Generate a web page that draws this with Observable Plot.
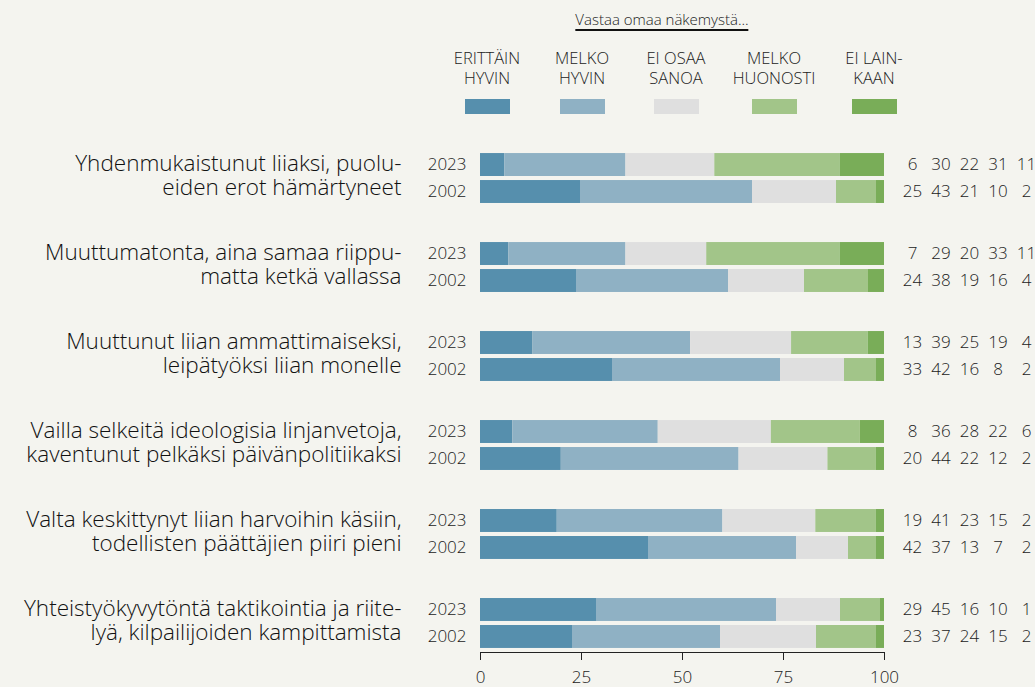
<!DOCTYPE html>
<html>
<head>
<meta charset="utf-8">
<script src="https://cdn.jsdelivr.net/npm/d3@7"></script>
<script src="https://cdn.jsdelivr.net/npm/@observablehq/plot@0.6"></script>
<style>
  html, body { margin: 0; padding: 0; background: #f4f4ef; }
  body { width: 1035px; height: 687px; overflow: hidden; font-family: "Open Sans", sans-serif; color: #222; }
  #legend { position: relative; width: 1035px; height: 125px; }
  #legend .title { position: absolute; left: 662px; top: 9px; transform: translateX(-50%); white-space: nowrap; text-align: center; font-size: 15px; font-weight: 350; border-bottom: 2px solid #111; line-height: 20px; }
  #legend .item { position: absolute; top: 48px; width: 120px; margin-left: -60px; text-align: center; font-size: 16.5px; font-weight: 350; line-height: 20px; white-space: pre; }
  #legend .sw { display: block; width: 45px; height: 15px; margin: 11px auto 0; }
  #chart svg { display: block; }
</style>
</head>
<body>
<div id="legend"></div>
<div id="chart"></div>
<script>
const categories = [
  "Yhdenmukaistunut liiaksi, puolu-\neiden erot hämärtyneet",
  "Muuttumatonta, aina samaa riippu-\nmatta ketkä vallassa",
  "Muuttunut liian ammattimaiseksi,\nleipätyöksi liian monelle",
  "Vailla selkeitä ideologisia linjanvetoja,\nkaventunut pelkäksi päivänpolitiikaksi",
  "Valta keskittynyt liian harvoihin käsiin,\ntodellisten päättäjien piiri pieni",
  "Yhteistyökyvytöntä taktikointia ja riite-\nlyä, kilpailijoiden kampittamista"
];
const years = ["2023", "2002"];
const responses = ["ERITTÄIN HYVIN", "MELKO HYVIN", "EI OSAA SANOA", "MELKO HUONOSTI", "EI LAINKAAN"];
const legendLabels = ["ERITTÄIN\nHYVIN", "MELKO\nHYVIN", "EI OSAA\nSANOA", "MELKO\nHUONOSTI", "EI LAIN-\nKAAN"];
const colors = ["#568fad", "#8fb1c4", "#dfdfdf", "#a2c589", "#79ad58"];
const values2023 = [
  [6, 30, 22, 31, 11],
  [7, 29, 20, 33, 11],
  [13, 39, 25, 19, 4],
  [8, 36, 28, 22, 6],
  [19, 41, 23, 15, 2],
  [29, 45, 16, 10, 1]
];
const values2002 = [
  [25, 43, 21, 10, 2],
  [24, 38, 19, 16, 4],
  [33, 42, 16, 8, 2],
  [20, 44, 22, 12, 2],
  [42, 37, 13, 7, 2],
  [23, 37, 24, 15, 2]
];
const legendTitle = "Vastaa omaa näkemystä...";
const xTicks = [0, 25, 50, 75, 100];

// Build long table
const data = [];
categories.forEach((cat, i) => {
  [["2023", values2023[i]], ["2002", values2002[i]]].forEach(([year, vals]) => {
    vals.forEach((v, j) => data.push({cat, year, resp: responses[j], j, value: v}));
  });
});

// Legend (HTML)
const legend = document.getElementById("legend");
const t = document.createElement("div");
t.className = "title";
t.textContent = legendTitle;
legend.appendChild(t);
const legendX = [487, 582, 676, 774, 874];
legendLabels.forEach((lab, j) => {
  const it = document.createElement("div");
  it.className = "item";
  it.style.left = legendX[j] + "px";
  it.textContent = lab;
  const sw = document.createElement("span");
  sw.className = "sw";
  sw.style.background = colors[j];
  it.appendChild(sw);
  legend.appendChild(it);
});

const chart = Plot.plot({
  width: 1035,
  height: 562,
  marginLeft: 480,
  marginRight: 151,
  marginTop: 24,
  marginBottom: 35,
  style: {background: "transparent", fontFamily: "Open Sans, sans-serif", color: "#222", overflow: "visible"},
  x: {domain: [0, 1], axis: null},
  y: {domain: years, padding: 0.15, round: false, axis: null},
  fy: {domain: categories, paddingInner: 0.348, paddingOuter: 0, round: false, axis: null},
  color: {domain: responses, range: colors},
  marks: [
    Plot.barX(data, Plot.stackX({offset: "normalize", x: "value", y: "year", fy: "cat", fill: "resp"})),
    Plot.axisY({tickSize: 0, tickPadding: 14, fontSize: 17, fontWeight: 350, label: null}),
    Plot.axisX({ticks: xTicks.map(d => d / 100), tickFormat: d => Math.round(d * 100), tickSize: 8, tickPadding: 10, fontSize: 17, fontWeight: 350, label: null, facetAnchor: "bottom", anchor: "bottom"}),
    Plot.frame({anchor: "bottom", facetAnchor: "bottom"}),
    Plot.text(categories, {fy: d => d, text: d => d, frameAnchor: "left", textAnchor: "end", dx: -79, dy: -3.5, fontSize: 22.5, lineHeight: 1.08, fontWeight: 300, fill: "#111"}),
    ...responses.map((r, j) =>
      Plot.text(data.filter(d => d.j === j), {fy: "cat", y: "year", text: "value", frameAnchor: "right", textAnchor: "middle", dx: 28 + 28.5 * j, fontSize: 17, fontWeight: 350})
    )
  ]
});
document.getElementById("chart").appendChild(chart);
</script>
</body>
</html>
